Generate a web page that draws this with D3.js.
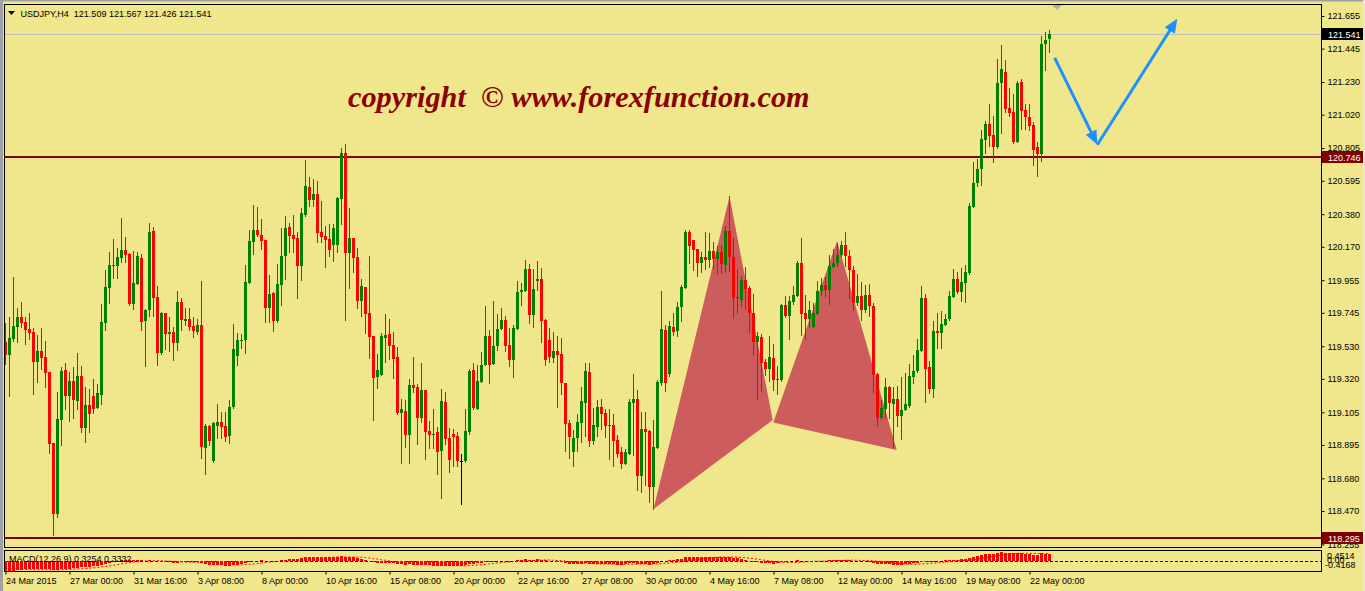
<!DOCTYPE html>
<html><head><meta charset="utf-8">
<script src="https://cdn.jsdelivr.net/npm/d3@7"></script>
<style>html,body{margin:0;padding:0;background:#F0E68C;overflow:hidden}svg{display:block}</style>
</head><body><svg id="c" width="1365" height="591"></svg>
<script>
// ---- data (USDJPY H4, bar index 0 = 24 Mar 2015 08:00) ----
const opens=[119.559,119.474,119.576,119.654,119.718,119.686,119.641,119.622,119.428,119.499,
119.461,119.364,118.907,118.450,119.055,119.377,119.210,119.306,119.180,119.338,
119.004,119.152,119.210,119.132,119.216,119.679,119.905,120.046,120.046,120.098,
120.149,120.123,119.802,119.930,120.098,119.692,119.763,120.271,119.847,119.486,
119.744,119.609,119.622,119.551,119.815,119.692,119.705,119.660,119.622,119.667,
118.875,119.017,118.791,119.017,119.042,119.017,118.952,119.139,119.467,119.564,
119.570,119.937,120.201,120.278,120.246,120.214,119.776,119.872,119.692,119.924,
120.111,120.297,120.246,120.226,120.046,120.374,120.555,120.471,120.510,120.265,
120.239,120.220,120.181,120.181,120.477,120.773,120.130,120.226,120.104,119.821,
119.911,119.744,119.596,119.332,119.345,119.583,119.609,119.538,119.461,119.100,
119.113,118.959,119.280,119.268,119.068,119.248,118.984,118.959,118.978,118.856,
119.171,118.939,118.965,118.952,118.789,118.791,118.978,119.377,119.126,119.300,
119.409,119.596,119.416,119.531,119.641,119.699,119.538,119.441,119.641,119.879,
119.885,120.027,119.731,119.950,119.963,119.699,119.570,119.454,119.499,119.480,
119.293,119.036,118.849,118.939,119.036,119.165,119.364,118.920,119.010,119.139,
119.100,119.023,119.023,118.927,118.849,118.772,118.836,119.165,119.190,118.695,
118.997,118.984,118.624,118.875,119.293,119.634,119.351,119.654,119.628,119.782,
119.905,120.265,120.214,120.156,120.066,120.104,120.085,120.143,120.091,120.136,
120.053,120.271,120.104,119.847,119.827,119.956,119.905,119.744,119.557,119.589,
119.428,119.383,119.454,119.313,119.313,119.795,119.724,119.815,119.853,120.066,
119.744,119.705,119.654,119.737,119.885,119.924,119.892,120.040,120.066,120.117,
120.181,120.111,120.020,119.808,119.853,119.763,119.860,119.789,119.351,119.068,
119.126,119.268,119.158,119.190,119.081,119.120,119.145,119.332,119.371,119.499,
119.840,119.396,119.255,119.628,119.615,119.667,119.705,119.847,119.963,119.879,
119.937,120.001,120.426,120.580,120.671,120.857,120.960,120.889,120.812,121.224,
121.295,121.063,121.037,120.844,121.230,121.050,121.005,120.954,120.812,120.767,
121.475,121.509];
const highs=[119.679,119.720,119.978,119.778,119.812,119.716,119.744,119.649,119.602,119.647,
119.564,119.366,118.909,119.233,119.394,119.420,119.364,119.394,119.486,119.403,
119.268,119.255,119.319,119.289,119.804,120.020,120.136,120.220,120.162,120.355,
120.233,120.130,120.143,120.136,120.123,119.769,120.323,120.297,119.917,119.750,
119.744,119.718,119.654,119.885,119.840,119.776,119.776,119.718,119.705,119.950,
119.030,119.023,119.042,119.158,119.107,119.107,119.184,119.673,119.615,119.609,
120.053,120.278,120.439,120.426,120.349,120.214,119.988,119.879,120.059,120.291,
120.368,120.323,120.374,120.265,120.419,120.728,120.619,120.606,120.593,120.464,
120.304,120.316,120.316,120.490,120.806,120.831,120.419,120.226,120.162,119.963,
119.911,120.111,119.596,119.480,119.615,119.737,119.705,119.622,119.525,119.190,
119.184,119.319,119.461,119.287,119.422,119.248,119.049,119.126,119.010,119.255,
119.235,119.004,118.997,118.978,118.836,119.126,119.383,119.422,119.409,119.493,
119.789,119.634,119.821,119.737,119.776,119.724,119.647,119.667,119.950,119.937,
120.085,120.059,120.027,120.078,120.033,119.705,119.647,119.622,119.596,119.583,
119.293,119.055,118.991,119.094,119.268,119.422,119.422,119.132,119.184,119.190,
119.126,119.126,119.094,118.959,118.881,118.869,119.190,119.351,119.248,119.107,
119.107,118.991,119.055,119.313,119.885,119.667,119.692,119.744,119.815,119.924,
120.278,120.278,120.214,120.156,120.136,120.265,120.259,120.201,120.175,120.181,
120.304,120.497,120.226,120.027,119.982,120.040,119.917,119.866,119.622,119.609,
119.448,119.596,119.544,119.403,119.802,119.853,119.853,119.917,120.078,120.226,
119.860,119.821,119.808,119.950,119.969,119.975,120.117,120.156,120.194,120.207,
120.265,120.149,120.046,119.995,119.943,119.924,119.930,119.808,119.358,119.184,
119.325,119.274,119.268,119.274,119.332,119.358,119.416,119.474,119.576,119.917,
119.866,119.435,119.692,119.744,119.757,119.737,119.885,120.027,120.008,120.033,
120.053,120.452,120.715,120.735,120.921,120.979,121.089,121.009,121.378,121.468,
121.372,121.192,121.153,121.237,121.250,121.089,121.089,120.973,120.844,121.526,
121.552,121.567];
const lows=[119.416,119.210,119.566,119.555,119.656,119.544,119.576,119.222,119.300,119.386,
119.268,118.843,118.315,118.431,118.894,119.126,119.049,119.068,119.126,118.978,
118.914,118.978,119.100,119.132,119.158,119.634,119.808,119.969,119.969,120.072,
120.072,119.795,119.769,119.930,119.634,119.403,119.724,119.724,119.409,119.480,
119.512,119.499,119.441,119.506,119.634,119.667,119.634,119.589,119.609,118.811,
118.708,118.894,118.785,118.939,118.939,118.920,118.907,119.132,119.409,119.519,
119.486,119.937,120.123,120.239,120.156,119.686,119.686,119.628,119.686,119.795,
119.963,120.136,120.136,119.840,119.956,120.368,120.432,120.432,120.201,120.201,
120.040,120.111,120.078,120.136,120.316,119.699,119.905,120.008,119.776,119.724,
119.615,119.454,119.055,119.261,119.345,119.428,119.448,119.325,119.094,118.779,
118.881,118.779,119.235,118.901,119.042,118.804,118.875,118.875,118.708,118.553,
118.901,118.721,118.759,118.759,118.515,118.785,118.965,119.126,119.126,119.300,
119.409,119.293,119.416,119.506,119.641,119.499,119.403,119.332,119.641,119.795,
119.885,119.679,119.654,119.892,119.557,119.409,119.428,119.428,119.139,119.222,
118.856,118.811,118.759,118.856,118.914,118.952,118.888,118.901,118.952,118.997,
118.946,118.804,118.759,118.817,118.746,118.772,118.836,118.830,118.605,118.592,
118.637,118.527,118.482,118.875,119.280,119.242,119.338,119.602,119.596,119.692,
119.905,120.066,120.020,119.982,120.008,120.027,120.040,120.033,119.995,120.001,
120.008,120.014,119.712,119.744,119.789,119.769,119.622,119.474,119.190,119.242,
119.345,119.306,119.248,119.222,119.306,119.718,119.576,119.802,119.853,119.602,
119.576,119.654,119.654,119.737,119.860,119.853,119.802,120.040,120.046,120.111,
120.046,119.840,119.763,119.795,119.699,119.750,119.724,119.235,119.017,119.062,
119.068,119.068,118.881,119.017,118.933,119.120,119.139,119.293,119.364,119.499,
119.171,119.229,119.203,119.519,119.519,119.667,119.699,119.847,119.872,119.821,
119.815,119.995,120.426,120.561,120.568,120.773,120.818,120.716,120.806,120.902,
121.037,121.012,120.838,120.844,120.928,120.928,120.921,120.696,120.625,120.722,
121.308,121.426];
const closes=[119.474,119.583,119.660,119.718,119.682,119.634,119.615,119.428,119.499,119.454,
119.360,118.903,118.450,119.062,119.373,119.210,119.308,119.184,119.338,119.004,
119.152,119.094,119.126,119.229,119.686,119.911,120.053,120.053,120.104,120.149,
120.117,119.802,119.937,120.111,119.686,119.763,120.265,119.840,119.486,119.744,
119.609,119.622,119.551,119.815,119.699,119.705,119.654,119.628,119.667,118.881,
119.017,118.920,119.036,119.042,119.010,118.946,119.139,119.512,119.570,119.570,
119.943,120.207,120.278,120.246,120.207,119.776,119.866,119.692,119.930,120.111,
120.291,120.239,120.220,120.046,120.387,120.561,120.471,120.510,120.259,120.233,
120.214,120.149,120.291,120.484,120.773,120.130,120.226,120.098,119.821,119.917,
119.737,119.589,119.325,119.377,119.596,119.602,119.531,119.448,119.100,119.126,
118.959,119.280,119.261,119.068,119.248,118.978,118.959,118.965,118.849,119.177,
118.933,118.798,118.946,118.791,118.789,118.984,119.371,119.132,119.306,119.409,
119.596,119.409,119.531,119.641,119.699,119.531,119.441,119.647,119.879,119.892,
120.027,119.731,119.898,119.963,119.692,119.441,119.461,119.499,119.474,119.293,
119.030,118.946,118.939,119.042,119.177,119.371,118.920,119.023,119.139,119.094,
119.017,119.017,118.920,118.836,118.772,118.849,119.171,119.190,118.695,118.997,
118.978,118.624,118.881,119.300,119.641,119.293,119.660,119.622,119.782,119.911,
120.265,120.175,120.149,120.066,120.104,120.085,120.143,120.091,120.136,120.059,
120.271,120.104,119.840,119.840,119.956,119.898,119.744,119.557,119.596,119.422,
119.383,119.461,119.313,119.319,119.795,119.724,119.821,119.860,120.066,119.737,
119.705,119.763,119.744,119.885,119.924,119.892,120.046,120.066,120.117,120.181,
120.111,120.020,119.808,119.853,119.763,119.860,119.789,119.345,119.068,119.132,
119.268,119.165,119.190,119.081,119.120,119.158,119.338,119.371,119.506,119.840,
119.383,119.255,119.628,119.615,119.673,119.705,119.853,119.963,119.879,119.943,
120.008,120.432,120.580,120.670,120.864,120.960,120.883,120.812,121.224,121.314,
121.057,121.031,120.844,121.224,121.044,121.005,120.947,120.793,120.767,121.475,
121.501,121.541];
const macdMain=[-0.40,-0.41,-0.40,-0.38,-0.36,-0.35,-0.34,-0.33,-0.33,-0.32,
-0.32,-0.34,-0.39,-0.37,-0.34,-0.32,-0.31,-0.29,-0.28,-0.26,
-0.25,-0.23,-0.22,-0.20,-0.16,-0.11,-0.06,-0.02,0.01,0.04,
0.06,0.06,0.04,0.04,0.04,0.02,0.04,0.03,0.01,-0.02,
-0.03,-0.04,-0.05,-0.05,-0.04,-0.04,-0.04,-0.04,-0.04,-0.09,
-0.12,-0.14,-0.16,-0.16,-0.17,-0.18,-0.18,-0.16,-0.14,-0.12,
-0.08,-0.04,0.00,0.03,0.05,0.03,0.02,0.01,0.02,0.05,
0.08,0.10,0.11,0.11,0.13,0.17,0.19,0.20,0.20,0.19,
0.18,0.18,0.18,0.20,0.24,0.20,0.19,0.17,0.14,0.11,
0.08,0.03,-0.03,-0.05,-0.06,-0.06,-0.07,-0.08,-0.11,-0.12,
-0.14,-0.13,-0.14,-0.15,-0.14,-0.16,-0.17,-0.18,-0.20,-0.18,
-0.19,-0.20,-0.20,-0.21,-0.20,-0.17,-0.12,-0.11,-0.08,-0.05,
-0.03,-0.03,-0.02,0.00,0.02,0.01,-0.01,0.01,0.04,0.06,
0.09,0.07,0.08,0.09,0.07,0.04,0.02,0.00,-0.03,-0.04,
-0.08,-0.11,-0.13,-0.13,-0.12,-0.09,-0.12,-0.12,-0.11,-0.11,
-0.11,-0.11,-0.13,-0.15,-0.16,-0.13,-0.09,-0.07,-0.11,-0.10,
-0.11,-0.14,-0.13,-0.06,0.01,0.00,0.04,0.06,0.09,0.11,
0.17,0.18,0.19,0.19,0.19,0.19,0.20,0.20,0.20,0.19,
0.21,0.18,0.16,0.13,0.11,0.08,0.03,-0.02,-0.03,-0.06,
-0.08,-0.08,-0.10,-0.09,-0.02,-0.01,0.01,0.03,0.05,0.03,
0.01,0.01,0.01,0.02,0.03,0.03,0.05,0.06,0.07,0.08,
0.07,0.05,0.02,0.02,0.00,0.00,-0.02,-0.07,-0.11,-0.13,
-0.13,-0.12,-0.14,-0.14,-0.15,-0.13,-0.12,-0.09,-0.07,-0.03,
-0.02,-0.03,-0.01,0.01,0.02,0.04,0.06,0.08,0.08,0.09,
0.10,0.15,0.21,0.25,0.28,0.32,0.33,0.33,0.37,0.40,
0.37,0.38,0.35,0.37,0.35,0.34,0.32,0.29,0.28,0.36,
0.33,0.3254];
const macdSignal=[-0.30,-0.31,-0.32,-0.33,-0.34,-0.35,-0.35,-0.36,-0.36,-0.36,
-0.36,-0.36,-0.36,-0.36,-0.36,-0.35,-0.35,-0.34,-0.33,-0.32,
-0.31,-0.29,-0.28,-0.26,-0.24,-0.22,-0.19,-0.17,-0.14,-0.11,
-0.08,-0.05,-0.03,-0.01,0.01,0.02,0.03,0.04,0.04,0.03,
0.02,0.01,0.00,-0.01,-0.02,-0.03,-0.03,-0.04,-0.04,-0.05,
-0.06,-0.07,-0.08,-0.09,-0.10,-0.12,-0.13,-0.14,-0.15,-0.15,
-0.14,-0.13,-0.11,-0.09,-0.07,-0.05,-0.03,-0.01,0.00,0.01,
0.02,0.04,0.05,0.07,0.08,0.10,0.11,0.13,0.15,0.16,
0.17,0.18,0.18,0.19,0.19,0.19,0.19,0.19,0.19,0.18,
0.17,0.15,0.12,0.10,0.07,0.05,0.02,-0.01,-0.03,-0.05,
-0.07,-0.09,-0.10,-0.11,-0.12,-0.13,-0.14,-0.15,-0.16,-0.16,
-0.17,-0.17,-0.18,-0.18,-0.19,-0.19,-0.18,-0.17,-0.16,-0.15,
-0.13,-0.11,-0.09,-0.07,-0.05,-0.03,-0.02,-0.01,0.00,0.01,
0.02,0.03,0.04,0.05,0.06,0.06,0.06,0.05,0.04,0.03,
0.01,-0.01,-0.03,-0.05,-0.07,-0.08,-0.09,-0.10,-0.11,-0.11,
-0.11,-0.11,-0.12,-0.12,-0.12,-0.12,-0.12,-0.12,-0.12,-0.11,
-0.11,-0.11,-0.11,-0.11,-0.10,-0.08,-0.07,-0.05,-0.03,-0.01,
0.01,0.04,0.06,0.08,0.11,0.13,0.15,0.17,0.18,0.19,
0.19,0.19,0.19,0.18,0.17,0.16,0.14,0.12,0.10,0.07,
0.04,0.02,0.00,-0.02,-0.04,-0.05,-0.05,-0.05,-0.04,-0.03,
-0.02,-0.01,0.00,0.01,0.01,0.02,0.02,0.03,0.04,0.04,
0.05,0.05,0.05,0.05,0.04,0.04,0.03,0.02,0.01,-0.01,
-0.03,-0.05,-0.07,-0.09,-0.10,-0.11,-0.12,-0.12,-0.12,-0.11,
-0.10,-0.09,-0.07,-0.06,-0.04,-0.03,-0.01,0.00,0.02,0.03,
0.04,0.06,0.08,0.10,0.13,0.16,0.19,0.22,0.25,0.28,
0.30,0.32,0.34,0.35,0.35,0.35,0.35,0.35,0.34,0.34,
0.34,0.3332];
const timeTickIndex=[0,16,32,48,64,80,96,112,128,144,160,176,192,208,224,240,256];
const timeTickLabels=["24 Mar 2015","27 Mar 00:00","31 Mar 16:00","3 Apr 08:00","8 Apr 00:00","10 Apr 16:00","15 Apr 08:00","20 Apr 00:00","22 Apr 16:00","27 Apr 08:00","30 Apr 00:00","4 May 16:00","7 May 08:00","12 May 00:00","14 May 16:00","19 May 08:00","22 May 00:00"];
const priceTicks=[121.655,121.445,121.230,121.020,120.805,120.595,120.380,120.170,119.955,119.745,119.530,119.320,119.105,118.895,118.680,118.470,118.255];
const levelLines=[120.746,118.295];
const currentPrice=121.541;
const headerText="USDJPY,H4  121.509 121.567 121.426 121.541";
const watermarkText="copyright  \u00A9 www.forexfunction.com";
const patternXAB=[[162,118.483],[181,120.492],[191.8,119.055]];
const patternBCD=[[191.95,119.040],[207.9,120.207],[222.8,118.862]];
const arrowPoints=[[262.3,121.385],[272.95,120.827],[292.95,121.638]];
const macdLabel="MACD(12,26,9) 0.3254 0.3332";
const macdScaleLabels=["0.4514","0.00","-0.4168"];

// ---- drawing ----
const svg=d3.select("#c");
const FONT='"Liberation Sans",Arial,sans-serif';
const L=4.5,R=1321.5,T=4.5,B=547.5,MT=550.5,MB=571.5;
const x=d3.scaleLinear().domain([0,329]).range([5.5,1321.5]);
const y=d3.scaleLinear().domain([118.255,121.655]).range([544.4,16]);
const my=d3.scaleLinear().domain([-0.4168,0.4514]).range([571,551]);

svg.append("rect").attr("width",1365).attr("height",591).attr("fill","#F0E68C");
svg.append("rect").attr("x",0).attr("y",0).attr("width",1365).attr("height",1.5).attr("fill","#A0A0A0");
svg.append("rect").attr("x",0).attr("y",0).attr("width",3).attr("height",591).attr("fill","#A0A0A0");
svg.append("rect").attr("x",1363).attr("y",0).attr("width",2).attr("height",591).attr("fill","#E8E4D8");

const defs=svg.append("defs");
defs.append("clipPath").attr("id","clipMain").append("rect").attr("x",5).attr("y",5).attr("width",R-5).attr("height",B-5);
defs.append("clipPath").attr("id","clipMacd").append("rect").attr("x",5).attr("y",MT+0.5).attr("width",R-5).attr("height",MB-MT-1);

const gm=svg.append("g").attr("clip-path","url(#clipMain)");

// pattern triangles (background objects)
const tri=d3.line().x(d=>x(d[0])).y(d=>y(d[1]));
[patternXAB,patternBCD].forEach(p=>{
  gm.append("path").attr("d",tri(p)+"Z").attr("fill","#CD5C5C");
});

// level lines
gm.append("line").attr("x1",L).attr("x2",R).attr("y1",Math.round(y(currentPrice))+0.5).attr("y2",Math.round(y(currentPrice))+0.5)
  .attr("stroke","#C0C0C0").attr("stroke-width",1).attr("shape-rendering","crispEdges");
levelLines.forEach(v=>{
  gm.append("line").attr("x1",L).attr("x2",R).attr("y1",Math.round(y(v))).attr("y2",Math.round(y(v)))
   .attr("stroke","#800000").attr("stroke-width",2).attr("shape-rendering","crispEdges");
});

// candles
const candles=opens.map((o,i)=>({i,o,h:highs[i],l:lows[i],c:closes[i]}));
const col=d=>d.c>d.o?"#008000":(d.c<d.o?"#FF0000":"#000000");
gm.selectAll("line.wick").data(candles).join("line").attr("class","wick")
  .attr("x1",d=>x(d.i)).attr("x2",d=>x(d.i))
  .attr("y1",d=>Math.round(y(d.h))).attr("y2",d=>Math.round(y(d.l))+1)
  .attr("stroke",col).attr("stroke-width",1).attr("shape-rendering","crispEdges");
gm.selectAll("rect.body").data(candles).join("rect").attr("class","body")
  .attr("x",d=>x(d.i)-1.5).attr("width",3)
  .attr("y",d=>Math.round(y(Math.max(d.o,d.c))))
  .attr("height",d=>Math.max(1,Math.round(y(Math.min(d.o,d.c)))-Math.round(y(Math.max(d.o,d.c)))))
  .attr("fill",col).attr("shape-rendering","crispEdges");

// watermark
const wm=svg.append("text").attr("x",348).attr("y",106.5).text(watermarkText)
  .style("white-space","pre").attr("xml:space","preserve")
  .attr("font-family",'"Liberation Serif","Times New Roman",serif').attr("font-weight","bold").attr("font-style","italic")
  .attr("font-size",24).attr("fill","#8B0000");
const wl=wm.node().getComputedTextLength();
if(wl>0) wm.attr("font-size",24*462/wl);

// arrows
const ag=svg.append("g");
function arrow(p0,p1){
  const x0=x(p0[0]),y0=y(p0[1]),x1=x(p1[0]),y1=y(p1[1]);
  const dx=x1-x0,dy=y1-y0,len=Math.hypot(dx,dy),ux=dx/len,uy=dy/len;
  const hl=14,hw=6;
  const bx=x1-ux*hl,by=y1-uy*hl;
  ag.append("line").attr("x1",x0).attr("y1",y0).attr("x2",bx+ux*2).attr("y2",by+uy*2)
    .attr("stroke","#1E90FF").attr("stroke-width",3);
  ag.append("path").attr("d",`M${x1},${y1}L${bx-uy*hw},${by+ux*hw}L${bx+uy*hw},${by-ux*hw}Z`).attr("fill","#1E90FF");
}
arrow(arrowPoints[0],arrowPoints[1]);
arrow(arrowPoints[1],arrowPoints[2]);

// MACD panel
const gd=svg.append("g").attr("clip-path","url(#clipMacd)");
const z0=Math.round(my(0))+0.5;
gd.append("line").attr("x1",L).attr("x2",R).attr("y1",z0).attr("y2",z0).attr("stroke","#000080").attr("stroke-dasharray","3,2").attr("shape-rendering","crispEdges");
gd.selectAll("rect.h").data(macdMain).join("rect").attr("class","h")
  .attr("x",(d,i)=>x(i)-1.5).attr("width",3)
  .attr("y",d=>Math.min(my(d),my(0))).attr("height",d=>Math.abs(my(d)-my(0)))
  .attr("fill","#FF0000").attr("shape-rendering","crispEdges");
gd.append("path").datum(macdSignal).attr("d",d3.line().x((d,i)=>x(i)).y(d=>my(d)))
  .attr("fill","none").attr("stroke","#FF0000").attr("stroke-width",1).attr("stroke-dasharray","2,2");
svg.append("text").attr("x",9).attr("y",561.5).text(macdLabel).attr("font-family",FONT).attr("font-size",9).attr("fill","#000");

// panel borders
svg.append("rect").attr("x",L).attr("y",T).attr("width",R-L).attr("height",B-T).attr("fill","none").attr("stroke","#000").attr("shape-rendering","crispEdges");
svg.append("rect").attr("x",L).attr("y",MT).attr("width",R-L).attr("height",MB-MT).attr("fill","none").attr("stroke","#000").attr("shape-rendering","crispEdges");

// shift marker
svg.append("path").attr("d","M1052,5L1062,5L1057,10Z").attr("fill","#B0B0B0");

// header
svg.append("path").attr("d","M8,11L15,11L11.5,15Z").attr("fill","#000");
svg.append("text").attr("x",20.5).attr("y",16.5).text(headerText).style("white-space","pre").attr("xml:space","preserve")
  .attr("font-family",FONT).attr("font-size",9).attr("fill","#000");

// price axis
const ya=svg.append("g").attr("transform",`translate(${R},0)`)
  .call(d3.axisRight(y).tickValues(priceTicks).tickFormat(d3.format(".3f")).tickSize(3).tickPadding(3));
ya.select(".domain").remove();
ya.selectAll("text").attr("font-family",FONT).attr("font-size",9).attr("fill","#000");
ya.selectAll("line").attr("stroke","#000");

// price labels
function priceBox(v,bg){
  const cy=y(v);
  svg.append("rect").attr("x",1322).attr("y",Math.round(cy)-6).attr("width",41).attr("height",12).attr("fill",bg);
  svg.append("text").attr("x",1328).attr("y",Math.round(cy)+3.5).text(d3.format(".3f")(v))
    .attr("font-family",FONT).attr("font-size",9).attr("fill","#FFFFFF");
}
priceBox(currentPrice,"#000000");
levelLines.forEach(v=>priceBox(v,"#800000"));

// MACD scale labels
[[macdScaleLabels[0],559],[macdScaleLabels[1],563],[macdScaleLabels[2],567.5]].forEach(([t,yy],k)=>{
  svg.append("text").attr("x",k===2?1325:1327).attr("y",yy).text(t).attr("font-family",FONT).attr("font-size",9).attr("fill","#000");
});

// time axis
const xa=svg.append("g").attr("transform",`translate(0,${MB})`)
  .call(d3.axisBottom(x).tickValues(timeTickIndex).tickFormat((d,i)=>timeTickLabels[i]).tickSize(3));
xa.select(".domain").remove();
xa.selectAll("line").attr("stroke","#000");
xa.selectAll("text").attr("font-family",FONT).attr("font-size",9).attr("fill","#000")
  .attr("text-anchor","start").attr("x",0).attr("y",12.5).attr("dy",null);
</script></body></html>
